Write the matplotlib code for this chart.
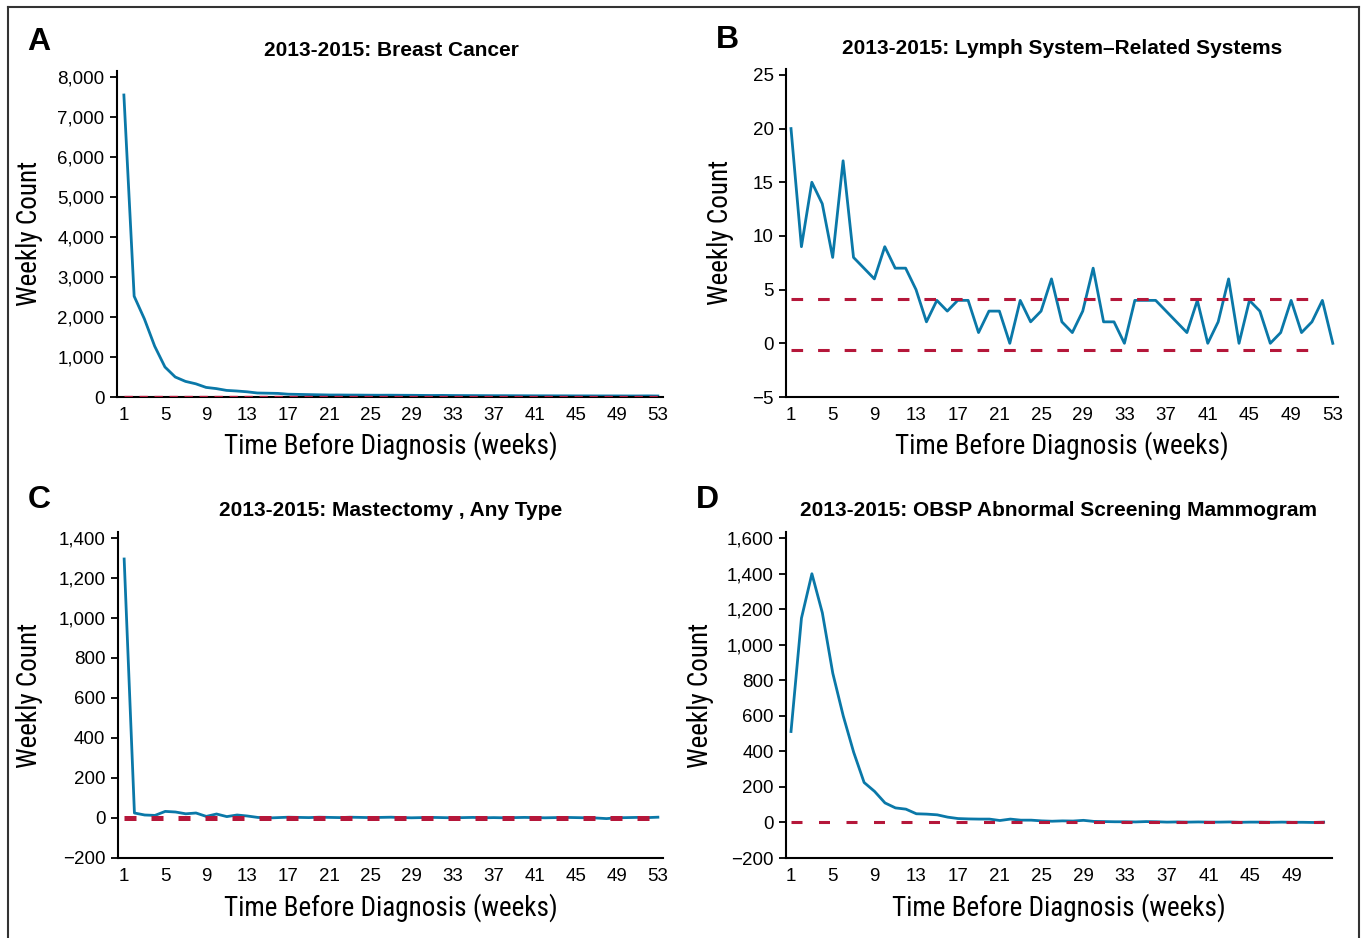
import numpy as np
import matplotlib
matplotlib.use('Agg')
import matplotlib.pyplot as plt
from matplotlib.lines import Line2D

# Datos (conteos semanales antes del diagnostico)
weeks_53 = list(range(1, 54))
weeks_52 = list(range(1, 53))

breast_cancer = [7550, 2520, 1950, 1270, 750, 500, 390, 330, 240, 210,
                 165, 150, 130, 100, 95, 90, 70, 65, 60, 55,
                 50, 50, 48, 47, 45, 44, 45, 43, 42, 40,
                 38, 40, 37, 36, 35, 34, 33, 33, 32, 31,
                 30, 30, 29, 29, 28, 28, 27, 27, 27, 26,
                 26, 28, 25]
breast_limit = [10]

lymph = [20, 9, 15, 13, 8, 17, 8, 7, 6, 9,
         7, 7, 5, 2, 4, 3, 4, 4, 1, 3,
         3, 0, 4, 2, 3, 6, 2, 1, 3, 7,
         2, 2, 0, 4, 4, 4, 3, 2, 1, 4,
         0, 2, 6, 0, 4, 3, 0, 1, 4, 1,
         2, 4, 0]
lymph_limits = [4.1, -0.65]

mastectomy = [1295, 25, 15, 13, 33, 30, 21, 25, 8, 20,
              7, 15, 10, 3, 0, 2, 4, 3, 2, 4,
              3, 2, 4, 3, 2, 3, 4, 2, 1, 2,
              3, 2, 1, 2, 3, 1, 2, 1, 2, 3,
              2, 1, 2, 3, 2, 1, 0, -3, 1, 2,
              3, 2, 4]
mastectomy_limit = [0]

obsp = [512, 1150, 1400, 1180, 840, 600, 395, 225, 175, 110,
        82, 75, 49, 47, 43, 30, 22, 20, 19, 19,
        11, 19, 13, 13, 9, 7, 9, 8, 12, 6,
        5, 4, 4, 3, 5, 4, 2, 3, 2, 3,
        2, 2, 3, 1, 2, 2, 1, 2, 1, 1,
        0, 2]
obsp_limit = [0]

ticks_53 = list(range(1, 54, 4))
ticks_49 = list(range(1, 50, 4))

BLUE = '#0a78a8'
RED = '#b5173a'
W, H = 1366, 938

plt.rcParams['font.family'] = ['Liberation Sans', 'DejaVu Sans']
NARROW = ['Liberation Sans Narrow', 'Roboto Condensed', 'Liberation Sans', 'DejaVu Sans']

fig = plt.figure(figsize=(W / 100, H / 100), dpi=100)


def px_axes(left, top, right, bottom):
    return fig.add_axes([left / W, 1 - bottom / H, (right - left) / W, (bottom - top) / H])


def style(ax, xlim, ylim, xticks, yticks, fmt):
    ax.set_xlim(*xlim)
    ax.set_ylim(*ylim)
    ax.set_xticks(xticks)
    ax.set_yticks(yticks)
    ax.set_yticklabels([fmt(v) for v in yticks])
    for s in ['top', 'right']:
        ax.spines[s].set_visible(False)
    for s in ['left', 'bottom']:
        ax.spines[s].set_linewidth(1.5)
    ax.tick_params(axis='x', length=0, pad=7, labelsize=13.5)
    ax.tick_params(axis='y', length=5, width=1.3, pad=4, labelsize=13.5)


def thousands(v):
    s = '{:,}'.format(abs(int(v)))
    return ('\u2212' + s) if v < 0 else s


# A
axA = px_axes(117, 71, 663, 397)
axA.plot(weeks_53, breast_cancer, color=BLUE, lw=2.0, zorder=2)
axA.hlines(breast_limit, 1, 53, colors=RED, lw=2.4, linestyles=(0, (2.5, 2.0)), zorder=3)
style(axA, (0.33, 53.5), (0, 8150), ticks_53, list(range(0, 8001, 1000)), thousands)

# B
axB = px_axes(786, 69, 1338, 397)
axB.plot(weeks_53, lymph, color=BLUE, lw=2.0, zorder=2)
axB.hlines(lymph_limits, 1, 52, colors=RED, lw=2.2, linestyles=(0, (3.8, 4.9)), zorder=3)
style(axB, (0.52, 53.5), (-5, 25.55), ticks_53, list(range(-5, 26, 5)), thousands)

# C
axC = px_axes(118, 532, 663, 858)
axC.plot(weeks_53, mastectomy, color=BLUE, lw=2.0, zorder=2)
axC.hlines(mastectomy_limit, 1, 53, colors=RED, lw=3.6, linestyles=(0, (2.4, 3.0)), zorder=3)
style(axC, (0.4, 53.5), (-200, 1430), ticks_53, list(range(-200, 1401, 200)), thousands)

# D
axD = px_axes(786, 532, 1332, 858)
axD.plot(weeks_52, obsp, color=BLUE, lw=2.0, zorder=2)
axD.hlines(obsp_limit, 1, 52, colors=RED, lw=2.2, linestyles=(0, (3.6, 5.4)), zorder=3)
style(axD, (0.52, 52.8), (-200, 1635), ticks_49, list(range(-200, 1601, 200)), thousands)

# Textos
def ftext(x, y, s, **kw):
    fig.text(x / W, 1 - y / H, s, ha='center', va='center', **kw)

for x, y, s in [(39, 42, 'A'), (727, 40, 'B'), (39, 500, 'C'), (707, 500, 'D')]:
    ftext(x, y, s, fontsize=23, fontweight='bold')

titles = [(391, 51, '2013-2015: Breast Cancer'),
          (1062, 49, '2013-2015: Lymph System\u2013Related Systems'),
          (391, 511, '2013-2015: Mastectomy , Any Type'),
          (1059, 511, '2013-2015: OBSP Abnormal Screening Mammogram')]
for x, y, s in titles:
    ftext(x, y, s, fontsize=15, fontweight='bold')

for x, y in [(30, 233), (720, 232), (30, 695), (700, 695)]:
    ftext(x, y, 'Weekly Count', fontsize=19.5, rotation=90, family=NARROW)

for x, y in [(391, 446), (1062, 446), (391, 908), (1059, 908)]:
    ftext(x, y, 'Time Before Diagnosis (weeks)', fontsize=19.5, family=NARROW)

# Marco de la figura
bx0, bx1, by0 = 8 / W, 1359 / W, 1 - 7 / H
for xs, ys in [([bx0, bx0], [by0, -0.01]), ([bx0, bx1], [by0, by0]), ([bx1, bx1], [by0, -0.01])]:
    fig.add_artist(Line2D(xs, ys, color='#333333', lw=1.5, transform=fig.transFigure))

fig.savefig('out.png', dpi=100)
